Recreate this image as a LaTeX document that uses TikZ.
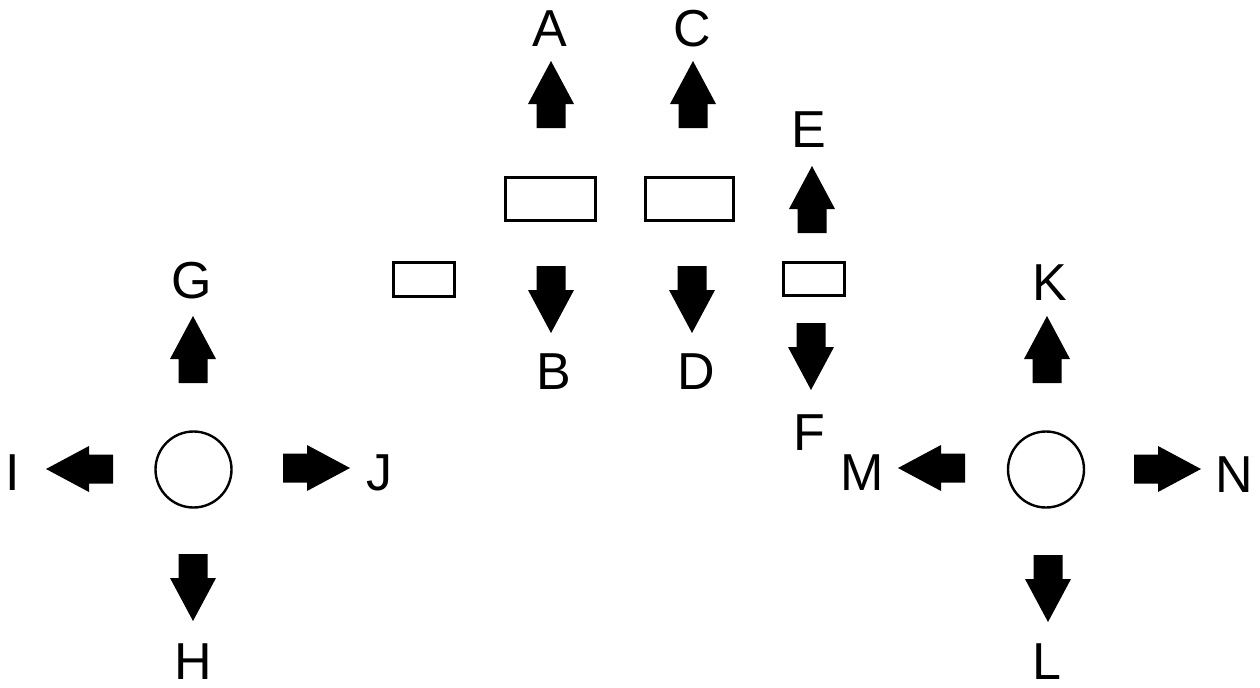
\documentclass[tikz,border=0pt]{standalone}
\usepackage{fontspec}
\setmainfont{Liberation Sans}
\begin{document}
\begin{tikzpicture}[x=0.5pt,y=0.5pt,
  lbl/.style={inner sep=0pt, anchor=base, font=\fontsize{26}{26}\selectfont},
  box/.style={draw, line width=1.5pt, inner sep=0pt},
  ring/.style={draw, circle, line width=1.2pt, inner sep=0pt, minimum size=38pt},
  blockarrow/.pic={\fill (0,-14.5) -- (24,-14.5) -- (24,-23) -- (67,0) -- (24,23) -- (24,14.5) -- (0,14.5) -- cycle;}]
\fill[white] (0,0) rectangle (1260,-687);
\useasboundingbox (0,0) rectangle (1260,-687);

% boxes
\node[box, minimum width=45pt, minimum height=21.5pt] (r1) at (550,-198.5) {};
\node[box, minimum width=44pt, minimum height=21.5pt] (r2) at (689,-198.5) {};
\node[box, minimum width=30.5pt, minimum height=16.5pt] (r3) at (813.5,-278.5) {};
\node[box, minimum width=30.5pt, minimum height=17pt] (r4) at (423.5,-279) {};

% circles
\node[ring] (c1) at (193.5,-469.5) {};
\node[ring] (c2) at (1046,-469.5) {};

% block arrows
\pic[rotate=90] at (551,-128) {blockarrow};
\pic[rotate=90] at (693,-128) {blockarrow};
\pic[rotate=90] at (812,-233) {blockarrow};
\pic[rotate=90] at (193,-383) {blockarrow};
\pic[rotate=90] at (1047,-383) {blockarrow};
\pic[rotate=-90] at (551,-266) {blockarrow};
\pic[rotate=-90] at (692,-266) {blockarrow};
\pic[rotate=-90] at (811,-323) {blockarrow};
\pic[rotate=-90] at (193,-554) {blockarrow};
\pic[rotate=-90] at (1048,-555) {blockarrow};
\pic[rotate=180] at (113,-469) {blockarrow};
\pic[rotate=180] at (965,-468) {blockarrow};
\pic at (283,-468) {blockarrow};
\pic at (1134,-469) {blockarrow};

% labels
\node[lbl] (A) at (549.5,-46) {A};
\node[lbl] (C) at (692,-46) {C};
\node[lbl] (B) at (554,-389) {B};
\node[lbl] (D) at (696,-389) {D};
\node[lbl] (E) at (809,-147) {E};
\node[lbl] (F) at (809,-450) {F};
\node[lbl] (G) at (192,-298) {G};
\node[lbl] (H) at (193,-679) {H};
\node[lbl] (I) at (13,-490) {I};
\node[lbl] (J) at (379,-490) {J};
\node[lbl] (K) at (1050,-300) {K};
\node[lbl] (L) at (1047,-679) {L};
\node[lbl] (M) at (862.5,-490) {M};
\node[lbl] (N) at (1234,-492) {N};
\end{tikzpicture}
\end{document}
